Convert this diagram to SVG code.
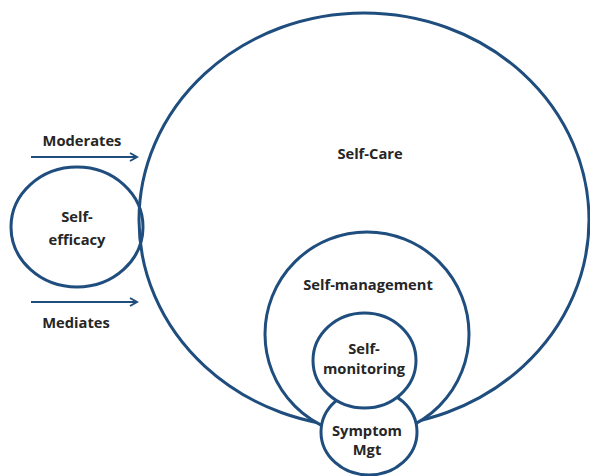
<svg xmlns="http://www.w3.org/2000/svg" width="590" height="476" viewBox="0 0 590 476">
<defs>
<style>
.c{fill:#fff;stroke:#1f4e7e;stroke-width:3}
.n{fill:none}
.t{font-family:"Open Sans","Liberation Sans",sans-serif;font-weight:bold;font-size:14.7px;fill:#262626;text-anchor:middle}
.a{stroke:#1f4e7e;stroke-width:2;fill:none}
</style>
<marker id="ah" markerWidth="10" markerHeight="10" refX="8" refY="5" orient="auto" markerUnits="userSpaceOnUse">
<path d="M1,1 L8,5 L1,9" fill="none" stroke="#1f4e7e" stroke-width="2"/>
</marker>
</defs>
<rect width="590" height="476" fill="#fff"/>
<g id="self-care"><ellipse class="c" cx="364" cy="220" rx="225" ry="207"/><text class="t" x="370" y="159">Self-Care</text></g>
<g id="self-efficacy"><ellipse class="c n" cx="77" cy="227" rx="66" ry="60"/><text class="t" x="77" y="222">Self-</text><text class="t" x="77" y="245">efficacy</text></g>
<g id="self-management"><ellipse class="c" cx="367" cy="334" rx="102" ry="102"/><text class="t" x="368" y="290">Self-management</text></g>
<g id="symptom-mgt"><ellipse class="c" cx="369" cy="432" rx="48" ry="43"/><text class="t" x="367" y="436">Symptom</text><text class="t" x="367" y="455">Mgt</text></g>
<g id="self-monitoring"><ellipse class="c" cx="364.5" cy="360.5" rx="51.5" ry="47.5"/><text class="t" x="364" y="354">Self-</text><text class="t" x="364" y="374">monitoring</text></g>
<g id="connectors">
<line class="a" x1="31" y1="157" x2="137" y2="157" marker-end="url(#ah)"/>
<line class="a" x1="31" y1="302" x2="137" y2="302" marker-end="url(#ah)"/>
<text class="t" x="82" y="146">Moderates</text>
<text class="t" x="76" y="328">Mediates</text>
</g>
</svg>
